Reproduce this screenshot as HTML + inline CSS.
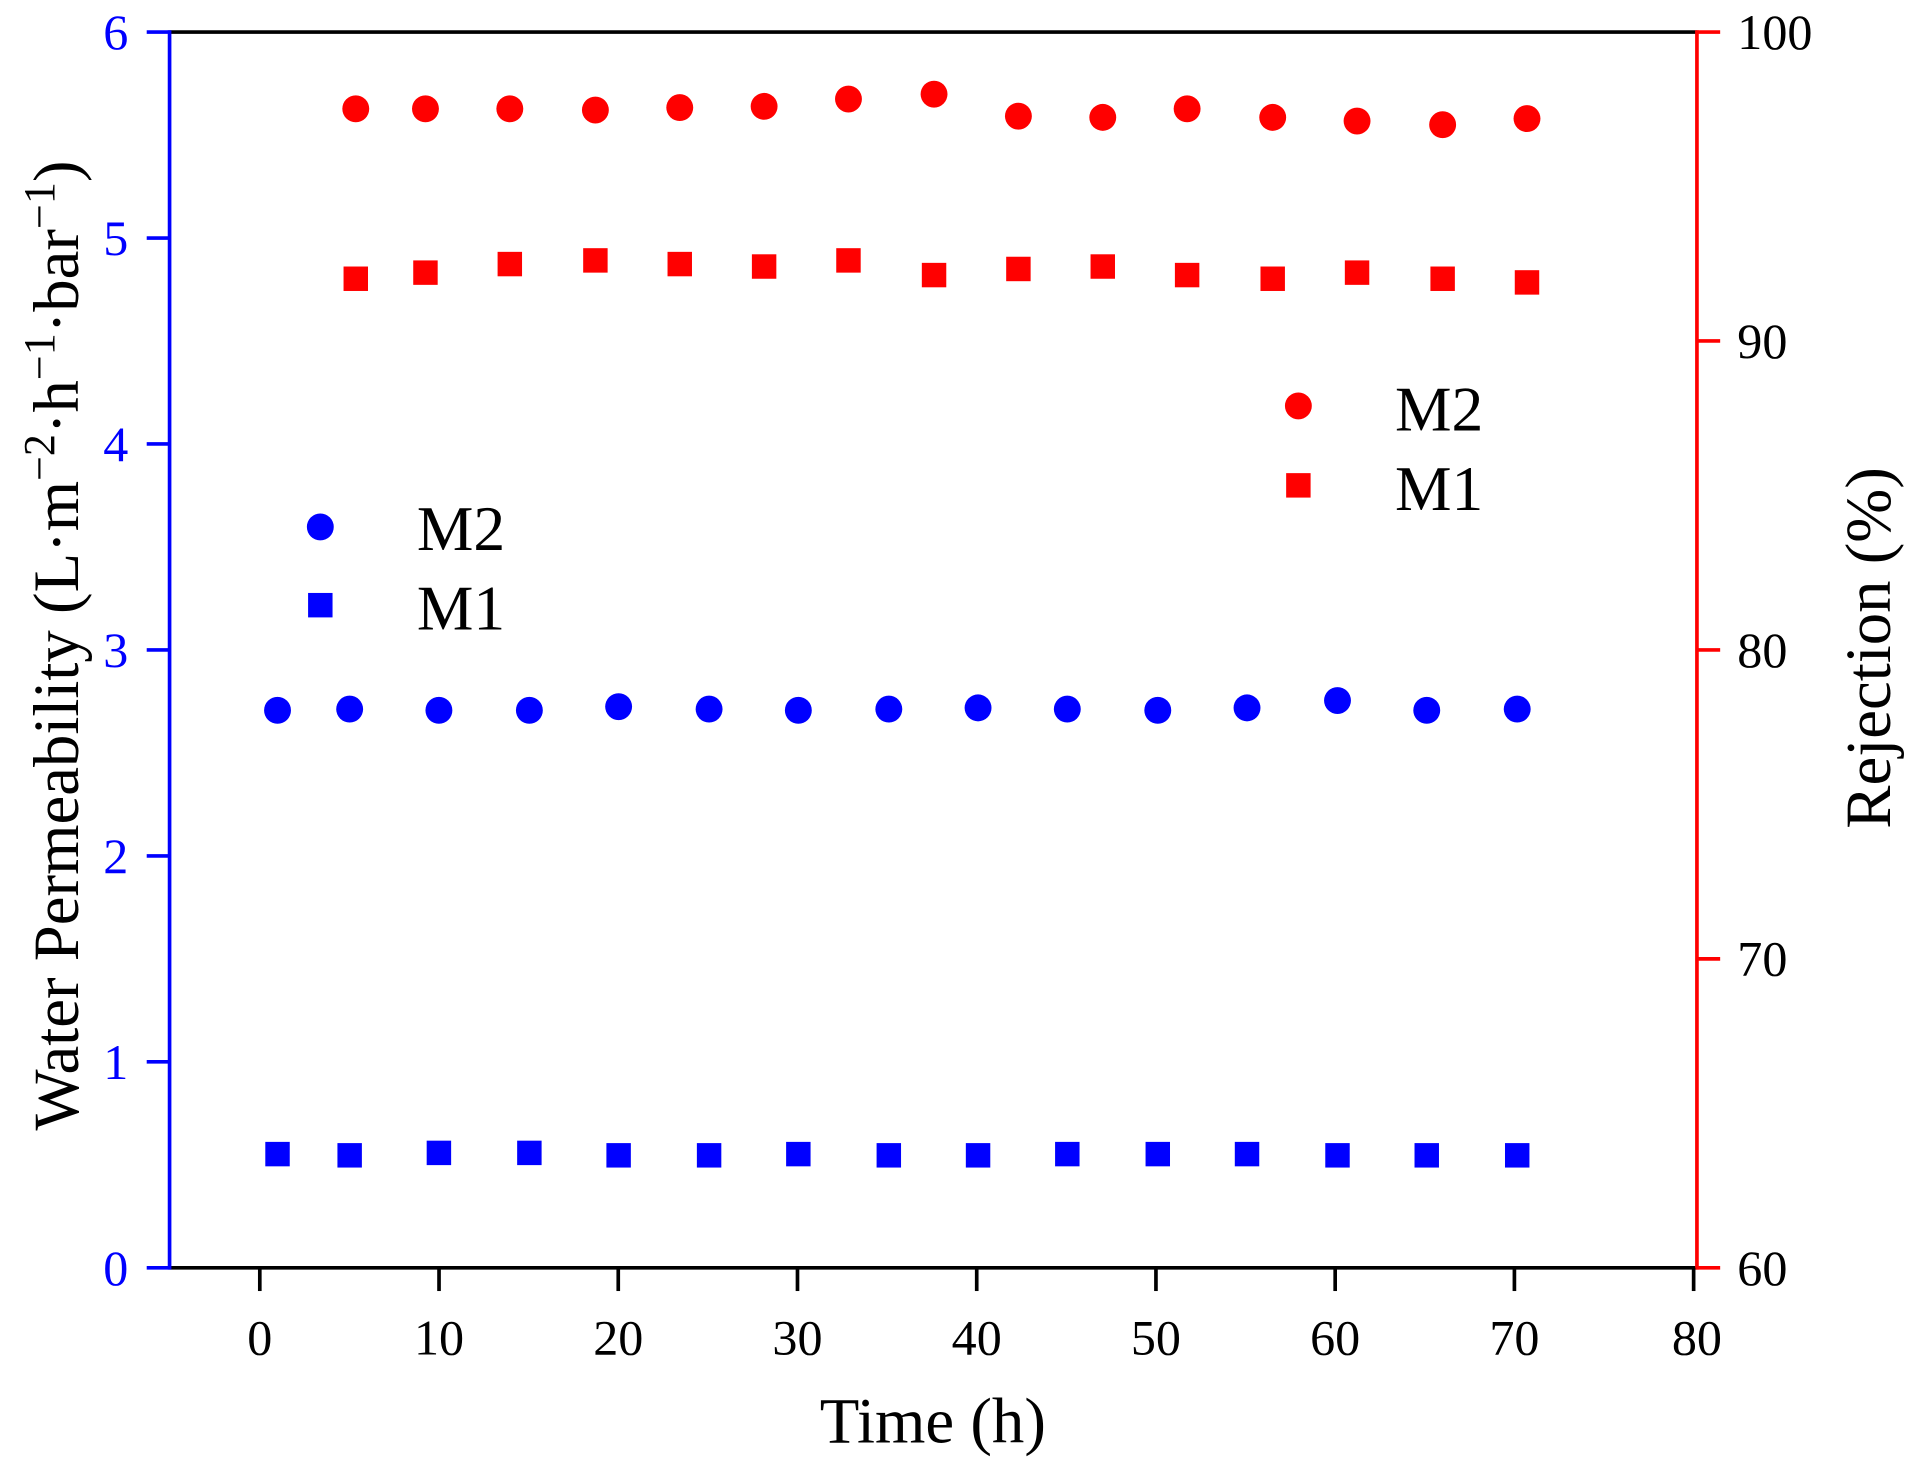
<!DOCTYPE html>
<html><head><meta charset="utf-8"><style>
html,body{margin:0;padding:0;background:#fff;}
svg{display:block;}
text{font-family:"Liberation Serif",serif;}
</style></head><body>
<svg width="1917" height="1471" viewBox="0 0 1568 1203.2" preserveAspectRatio="none" xmlns="http://www.w3.org/2000/svg">
<line x1="138.7" y1="26.2" x2="1388" y2="26.2" stroke="#000" stroke-width="3"/>
<line x1="138.7" y1="1037" x2="1388" y2="1037" stroke="#000" stroke-width="3"/>
<line x1="138.7" y1="24.7" x2="138.7" y2="1038.5" stroke="#00f" stroke-width="3"/>
<line x1="1388" y1="24.7" x2="1388" y2="1038.5" stroke="#f00" stroke-width="3"/>
<g stroke="#00f" stroke-width="3">
<line x1="120" y1="26.2" x2="138.7" y2="26.2"/><line x1="120" y1="194.7" x2="138.7" y2="194.7"/>
<line x1="120" y1="363.1" x2="138.7" y2="363.1"/><line x1="120" y1="531.6" x2="138.7" y2="531.6"/>
<line x1="120" y1="700.1" x2="138.7" y2="700.1"/><line x1="120" y1="868.5" x2="138.7" y2="868.5"/>
<line x1="120" y1="1037" x2="138.7" y2="1037"/>
</g>
<g fill="#00f" font-size="41" text-anchor="end">
<text x="105" y="40">6</text><text x="105" y="208.5">5</text><text x="105" y="377">4</text>
<text x="105" y="545.5">3</text><text x="105" y="714">2</text><text x="105" y="882.5">1</text><text x="105" y="1051">0</text>
</g>
<g stroke="#f00" stroke-width="3">
<line x1="1388" y1="26.2" x2="1407" y2="26.2"/><line x1="1388" y1="278.9" x2="1407" y2="278.9"/>
<line x1="1388" y1="531.6" x2="1407" y2="531.6"/><line x1="1388" y1="784.3" x2="1407" y2="784.3"/>
<line x1="1388" y1="1037" x2="1407" y2="1037"/>
</g>
<g fill="#000" font-size="41">
<text x="1421" y="40">100</text><text x="1421" y="293">90</text><text x="1421" y="545.5">80</text>
<text x="1421" y="798">70</text><text x="1421" y="1051">60</text>
</g>
<g stroke="#000" stroke-width="3">
<line x1="212.5" y1="1037" x2="212.5" y2="1056"/><line x1="359.1" y1="1037" x2="359.1" y2="1056"/>
<line x1="505.7" y1="1037" x2="505.7" y2="1056"/><line x1="652.3" y1="1037" x2="652.3" y2="1056"/>
<line x1="798.9" y1="1037" x2="798.9" y2="1056"/><line x1="945.5" y1="1037" x2="945.5" y2="1056"/>
<line x1="1092.1" y1="1037" x2="1092.1" y2="1056"/><line x1="1238.7" y1="1037" x2="1238.7" y2="1056"/>
<line x1="1385.3" y1="1037" x2="1385.3" y2="1056"/>
</g>
<g fill="#000" font-size="41" text-anchor="middle">
<text x="212.5" y="1108">0</text><text x="359.1" y="1108">10</text><text x="505.7" y="1108">20</text>
<text x="652.3" y="1108">30</text><text x="798.9" y="1108">40</text><text x="945.5" y="1108">50</text>
<text x="1092.1" y="1108">60</text><text x="1238.7" y="1108">70</text><text x="1388" y="1108">80</text>
</g>
<text x="763" y="1180" font-size="53" text-anchor="middle">Time (h)</text>
<text transform="translate(64,528) rotate(-90)" font-size="53" text-anchor="middle">Water Permeability  (L·m<tspan font-size="36" dy="-20">−2</tspan><tspan dy="20">·h</tspan><tspan font-size="36" dy="-20">−1</tspan><tspan dy="20">·bar</tspan><tspan font-size="36" dy="-20">−1</tspan><tspan dy="20">)</tspan></text>
<text transform="translate(1546,530) rotate(-90)" font-size="53" text-anchor="middle">Rejection (%)</text>
<g fill="#00f">
<circle cx="227" cy="581" r="11"/><circle cx="286" cy="580" r="11"/><circle cx="359" cy="581" r="11"/>
<circle cx="433" cy="581" r="11"/><circle cx="506" cy="578" r="11"/><circle cx="580" cy="580" r="11"/>
<circle cx="653" cy="581" r="11"/><circle cx="727" cy="580" r="11"/><circle cx="800" cy="579" r="11"/>
<circle cx="873" cy="580" r="11"/><circle cx="947" cy="581" r="11"/><circle cx="1020" cy="579" r="11"/>
<circle cx="1094" cy="573" r="11"/><circle cx="1167" cy="581" r="11"/><circle cx="1241" cy="580" r="11"/>
</g>
<g fill="#00f">
<rect x="217" y="934" width="20" height="20"/><rect x="276" y="935" width="20" height="20"/><rect x="349" y="933" width="20" height="20"/>
<rect x="423" y="933" width="20" height="20"/><rect x="496" y="935" width="20" height="20"/><rect x="570" y="935" width="20" height="20"/>
<rect x="643" y="934" width="20" height="20"/><rect x="717" y="935" width="20" height="20"/><rect x="790" y="935" width="20" height="20"/>
<rect x="863" y="934" width="20" height="20"/><rect x="937" y="934" width="20" height="20"/><rect x="1010" y="934" width="20" height="20"/>
<rect x="1084" y="935" width="20" height="20"/><rect x="1157" y="935" width="20" height="20"/><rect x="1231" y="935" width="20" height="20"/>
</g>
<g fill="#f00">
<circle cx="291" cy="89" r="11"/><circle cx="348" cy="89" r="11"/><circle cx="417" cy="89" r="11"/>
<circle cx="487" cy="90" r="11"/><circle cx="556" cy="88" r="11"/><circle cx="625" cy="87" r="11"/>
<circle cx="694" cy="81" r="11"/><circle cx="764" cy="77" r="11"/><circle cx="833" cy="95" r="11"/>
<circle cx="902" cy="96" r="11"/><circle cx="971" cy="89" r="11"/><circle cx="1041" cy="96" r="11"/>
<circle cx="1110" cy="99" r="11"/><circle cx="1180" cy="102" r="11"/><circle cx="1249" cy="97" r="11"/>
</g>
<g fill="#f00">
<rect x="281" y="218" width="20" height="20"/><rect x="338" y="213" width="20" height="20"/><rect x="407" y="206" width="20" height="20"/>
<rect x="477" y="203" width="20" height="20"/><rect x="546" y="206" width="20" height="20"/><rect x="615" y="208" width="20" height="20"/>
<rect x="684" y="203" width="20" height="20"/><rect x="754" y="215" width="20" height="20"/><rect x="823" y="210" width="20" height="20"/>
<rect x="892" y="208" width="20" height="20"/><rect x="961" y="215" width="20" height="20"/><rect x="1031" y="218" width="20" height="20"/>
<rect x="1100" y="213" width="20" height="20"/><rect x="1170" y="218" width="20" height="20"/><rect x="1239" y="221" width="20" height="20"/>
</g>
<circle cx="262" cy="431" r="11" fill="#00f"/>
<rect x="252" y="485" width="20" height="20" fill="#00f"/>
<text x="341" y="450" font-size="52">M2</text>
<text x="341" y="515" font-size="52">M1</text>
<circle cx="1062" cy="332" r="11" fill="#f00"/>
<rect x="1052" y="387" width="20" height="20" fill="#f00"/>
<text x="1141" y="352" font-size="52">M2</text>
<text x="1141" y="417" font-size="52">M1</text>
</svg>
</body></html>
